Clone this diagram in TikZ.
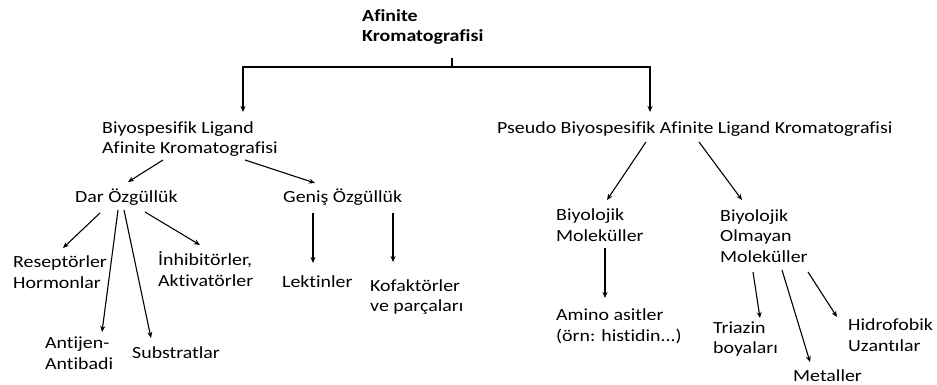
\documentclass[tikz,border=0pt]{standalone}
\usepackage{fontspec}
\setmainfont{Carlito}[FakeStretch=1.17, Ligatures=NoCommon]
\usetikzlibrary{arrows.meta}

\tikzset{
  lbl/.style={anchor=west, inner sep=0pt, align=left, font=\fontsize{17}{20.7}\selectfont},
  arr/.style={-{Stealth[length=6pt,width=5pt]}, line width=1.1pt}
}

\begin{document}
\begin{tikzpicture}[x=1pt, y=-1pt]
    \useasboundingbox (0,0) rectangle (937,385);

    % top level
    \node[lbl, font=\fontsize{17}{20.7}\selectfont\bfseries] (title) at (362,27) {Afinite\\Kromatografisi};
    \coordinate (fork) at (452,67);

    \node[lbl] (bio) at (102,139) {Biyospesifik Ligand\\Afinite Kromatografisi};
    \node[lbl] (pseudo) at (497,129) {Pseudo Biyospesifik Afinite Ligand Kromatografisi};

    % left branch
    \node[lbl] (dar) at (75,197) {Dar Özgüllük};
    \node[lbl] (genis) at (283,197) {Geniş Özgüllük};
    \node[lbl] (resep) at (13,272) {Reseptörler\\Hormonlar};
    \node[lbl] (inhib) at (158,269) {İnhibitörler,\\Aktivatörler};
    \node[lbl] (antijen) at (45,353) {Antijen-\\Antibadi};
    \node[lbl] (subst) at (132,353) {Substratlar};
    \node[lbl] (lektin) at (282,282) {Lektinler};
    \node[lbl] (kofak) at (370,297) {Kofaktörler\\ve parçaları};

    % right branch
    \node[lbl] (biyomol) at (556,225) {Biyolojik\\Moleküller};
    \node[lbl] (biyoolm) at (720,236) {Biyolojik\\Olmayan\\Moleküller};
    \node[lbl] (amino) at (556,326) {Amino asitler\\(örn: histidin...)};
    \node[lbl] (triazin) at (713,339) {Triazin\\boyaları};
    \node[lbl] (metal) at (793,376) {Metaller};
    \node[lbl] (hidro) at (848,335) {Hidrofobik\\Uzantılar};

    % connectors
    \draw[line width=1.1pt] ([shift={(90,31)}]title.west) -- (fork);
    \draw[arr] (fork) -| ([shift={(141,-27)}]bio.west);
    \draw[arr] (fork) -| ([shift={(153,-17)}]pseudo.west);

    \draw[arr] ([shift={(61,21)}]bio.west) -- ([shift={(53,-15)}]dar.west);
    \draw[arr] ([shift={(143,21)}]bio.west) -- ([shift={(32,-14)}]genis.west);
    \draw[arr] ([shift={(149,13)}]pseudo.west) -- ([shift={(51,-25)}]biyomol.west);
    \draw[arr] ([shift={(202,13)}]pseudo.west) -- ([shift={(22,-36)}]biyoolm.west);

    \draw[arr] ([shift={(25,16)}]dar.west) -- ([shift={(50,-24)}]resep.west);
    \draw[arr] ([shift={(43,13)}]dar.west) -- ([shift={(57,-21)}]antijen.west);
    \draw[arr] ([shift={(49,13)}]dar.west) -- ([shift={(19,-15)}]subst.west);
    \draw[arr] ([shift={(70,15)}]dar.west) -- ([shift={(42,-24)}]inhib.west);
    \draw[arr] ([shift={(30,16)}]genis.west) -- ([shift={(31,-19)}]lektin.west);
    \draw[arr] ([shift={(110,16)}]genis.west) -- ([shift={(23,-35)}]kofak.west);

    \draw[arr] ([shift={(49,23)}]biyomol.west) -- ([shift={(49,-28)}]amino.west);
    \draw[arr] ([shift={(33,36)}]biyoolm.west) -- ([shift={(47,-21)}]triazin.west);
    \draw[arr] ([shift={(62,34)}]biyoolm.west) -- ([shift={(17,-14)}]metal.west);
    \draw[arr] ([shift={(88,36)}]biyoolm.west) -- ([shift={(-11,-18)}]hidro.west);
\end{tikzpicture}
\end{document}
